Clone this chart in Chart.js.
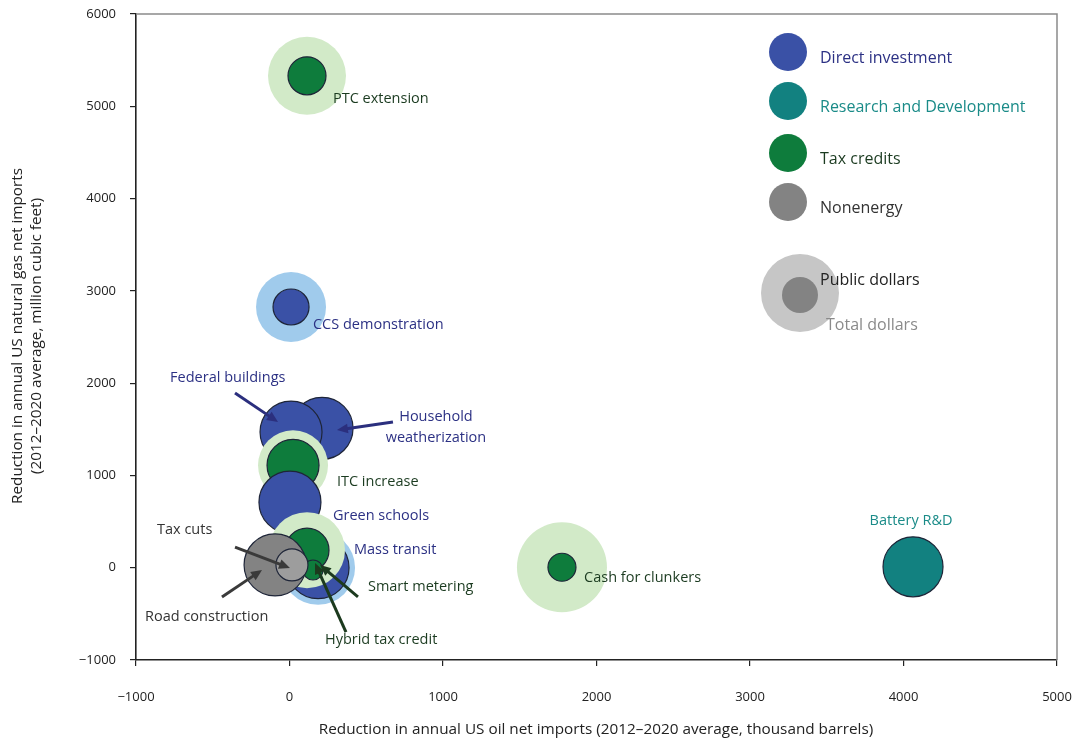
<!DOCTYPE html>
<html>
<head>
<meta charset="utf-8">
<script src="https://cdn.jsdelivr.net/npm/chart.js@4"></script>
<style>
    html, body { margin: 0; padding: 0; background: #fff; }
</style>
</head>
<body>
<canvas id="stimulus_chart" width="1072" height="742"></canvas>
<script>
// Projects, listed in drawing order (back to front)
const projects = [
    "Household weatherization", "Federal buildings", "ITC increase", "Green schools",
    "CCS demonstration", "PTC extension", "Mass transit", "Smart metering",
    "Hybrid tax credit", "Road construction", "Tax cuts", "Cash for clunkers", "Battery R&D"
];
const categories = ["direct", "direct", "tax", "direct", "direct", "tax", "direct", "tax", "tax", "nonenergy", "nonenergy", "tax", "rd"];
const oilImports = [212, 10, 23, 3, 10, 114, 186, 114, 153, -94, 16, 1775, 4062];   // thousand barrels
const gasImports = [1510, 1470, 1110, 710, 2825, 5330, 0, 190, -25, 30, 30, 5, 10]; // million cubic feet
const publicDollars = [31, 31, 26, 31, 18, 19, 31, 22, 10, 31, 16, 14, 30];  // bubble radius
const totalDollars = [0, 0, 35, 0, 35, 39, 37, 38, 0, 0, 0, 45, 0];          // 0 = same as public

const xTicks = [-1000, 0, 1000, 2000, 3000, 4000, 5000];
const yTicks = [-1000, 0, 1000, 2000, 3000, 4000, 5000, 6000];

const legendNames = ["Direct investment", "Research and Development", "Tax credits", "Nonenergy"];
const legendKeys = ["direct", "rd", "tax", "nonenergy"];

const FONT = "'Open Sans', 'Noto Sans', sans-serif";

const colors = {
    direct:    { fill: "#3a51a6", light: "#a0cbec", text: "#2c3184", arrow: "#2b2f7e" },
    rd:        { fill: "#128180", light: "#9fd6d2", text: "#1a8b88", arrow: "#1a8b88" },
    tax:       { fill: "#0e7c3c", light: "#d2eac8", text: "#1b3b20", arrow: "#1c3a1e" },
    nonenergy: { fill: "#838383", light: "#c6c6c6", text: "#333333", arrow: "#3a3a3a" }
};
const smallGray = "#9d9d9d";

// label text, anchored in data units
const labels = [
    { text: ["PTC extension"], x: 283, y: 5078, cat: "tax", align: "left" },
    { text: ["CCS demonstration"], x: 153, y: 2627, cat: "direct", align: "left" },
    { text: ["Federal buildings"], x: -778, y: 2056, cat: "direct", align: "left" },
    { text: ["Household", "weatherization"], x: 954, y: 1633, cat: "direct", align: "center" },
    { text: ["ITC increase"], x: 309, y: 928, cat: "tax", align: "left" },
    { text: ["Green schools"], x: 283, y: 560, cat: "direct", align: "left" },
    { text: ["Mass transit"], x: 420, y: 192, cat: "direct", align: "left" },
    { text: ["Smart metering"], x: 511, y: -209, cat: "tax", align: "left" },
    { text: ["Hybrid tax credit"], x: 231, y: -783, cat: "tax", align: "left" },
    { text: ["Road construction"], x: -941, y: -534, cat: "nonenergy", align: "left" },
    { text: ["Tax cuts"], x: -863, y: 409, cat: "nonenergy", align: "left" },
    { text: ["Cash for clunkers"], x: 1919, y: -115, cat: "tax", align: "left" },
    { text: ["Battery R&D"], x: 4049, y: 505, cat: "rd", align: "center" }
];

// pointer arrows: from -> to, data units
const arrows = [
    { from: [-355, 1893], to: [-75, 1579], cat: "direct" },
    { from: [674, 1579], to: [309, 1492], cat: "direct" },
    { from: [-355, 224], to: [3, -3], cat: "nonenergy" },
    { from: [-440, -317], to: [-179, -25], cat: "nonenergy" },
    { from: [446, -317], to: [199, 29], cat: "tax" },
    { from: [368, -697], to: [166, 51], cat: "tax" }
];

// build the bubbles: total-dollar ring first, public-dollar disc on top
const points = [];
projects.forEach((name, i) => {
    if (totalDollars[i] > 0) {
        points.push({ x: oilImports[i], y: gasImports[i], r: totalDollars[i], kind: "total", cat: categories[i], name: name });
    }
    points.push({ x: oilImports[i], y: gasImports[i], r: publicDollars[i], kind: "public", cat: categories[i], name: name });
});

function fmtTick(v) {
    return v < 0 ? "\u2212" + Math.abs(v) : String(v);
}

function drawArrow(ctx, x1, y1, x2, y2, color) {
    const ang = Math.atan2(y2 - y1, x2 - x1);
    const head = 12;
    ctx.save();
    ctx.strokeStyle = color;
    ctx.fillStyle = color;
    ctx.lineWidth = 3;
    ctx.beginPath();
    ctx.moveTo(x1, y1);
    ctx.lineTo(x2 - Math.cos(ang) * head * 0.8, y2 - Math.sin(ang) * head * 0.8);
    ctx.stroke();
    ctx.beginPath();
    ctx.moveTo(x2, y2);
    ctx.lineTo(x2 - head * Math.cos(ang - 0.42), y2 - head * Math.sin(ang - 0.42));
    ctx.lineTo(x2 - head * Math.cos(ang + 0.42), y2 - head * Math.sin(ang + 0.42));
    ctx.closePath();
    ctx.fill();
    ctx.restore();
}

const decorPlugin = {
    id: "decor",
    afterDatasetsDraw(chart) {
        const ctx = chart.ctx;
        const xs = chart.scales.x, ys = chart.scales.y;
        const area = chart.chartArea;

        // gray frame on top and right
        ctx.save();
        ctx.strokeStyle = "#8a8a8a";
        ctx.lineWidth = 1.5;
        ctx.beginPath();
        ctx.moveTo(area.left, area.top);
        ctx.lineTo(area.right, area.top);
        ctx.lineTo(area.right, area.bottom);
        ctx.stroke();
        ctx.restore();

        // arrows
        arrows.forEach(a => {
            drawArrow(ctx,
                xs.getPixelForValue(a.from[0]), ys.getPixelForValue(a.from[1]),
                xs.getPixelForValue(a.to[0]), ys.getPixelForValue(a.to[1]),
                colors[a.cat].arrow);
        });

        // point labels
        ctx.save();
        ctx.font = "14.5px " + FONT;
        ctx.textBaseline = "middle";
        labels.forEach(l => {
            ctx.fillStyle = colors[l.cat].text;
            ctx.textAlign = l.align;
            const px = xs.getPixelForValue(l.x);
            const py = ys.getPixelForValue(l.y);
            l.text.forEach((t, k) => ctx.fillText(t, px, py + k * 21));
        });
        ctx.restore();

        // legend
        ctx.save();
        ctx.font = "16px " + FONT;
        ctx.textBaseline = "middle";
        ctx.textAlign = "left";
        const legendY = [52, 101, 153, 202];
        legendKeys.forEach((key, k) => {
            ctx.fillStyle = colors[key].fill;
            ctx.beginPath();
            ctx.arc(788, legendY[k], 19, 0, Math.PI * 2);
            ctx.fill();
            ctx.fillStyle = colors[key].text;
            ctx.fillText(legendNames[k], 820, legendY[k] + 6);
        });
        ctx.fillStyle = colors.nonenergy.light;
        ctx.beginPath();
        ctx.arc(800, 293, 39, 0, Math.PI * 2);
        ctx.fill();
        ctx.fillStyle = colors.nonenergy.fill;
        ctx.beginPath();
        ctx.arc(800, 295, 18, 0, Math.PI * 2);
        ctx.fill();
        ctx.fillStyle = "#222";
        ctx.fillText("Public dollars", 820, 280);
        ctx.fillStyle = "#8a8a8a";
        ctx.fillText("Total dollars", 826, 325);
        ctx.restore();

        // axis titles
        ctx.save();
        ctx.font = "15.3px " + FONT;
        ctx.fillStyle = "#222";
        ctx.textAlign = "center";
        ctx.textBaseline = "middle";
        ctx.fillText("Reduction in annual US oil net imports (2012\u20132020 average, thousand barrels)", 596, 730);
        ctx.translate(18, 336);
        ctx.rotate(-Math.PI / 2);
        ctx.fillText("Reduction in annual US natural gas net imports", 0, 0);
        ctx.fillText("(2012\u20132020 average, million cubic feet)", 0, 19);
        ctx.restore();
    }
};

function bubbleFill(c) {
    const p = c.raw;
    if (!p) return "#000";
    if (p.kind === "total") return colors[p.cat].light;
    if (p.name === "Tax cuts") return smallGray;
    return colors[p.cat].fill;
}

const ctx = document.getElementById("stimulus_chart").getContext("2d");
const stimulus_chart = new Chart(ctx, {
    type: "bubble",
    data: {
        datasets: [{
            data: points,
            backgroundColor: bubbleFill,
            borderColor: "#1e2538",
            borderWidth: c => (c.raw && c.raw.kind === "public") ? 1.2 : 0,
            clip: false
        }]
    },
    options: {
        responsive: false,
        animation: false,
        events: [],
        layout: { autoPadding: false, padding: { top: 14, right: 15, left: 0, bottom: 0 } },
        plugins: { legend: { display: false }, tooltip: { enabled: false } },
        scales: {
            x: {
                type: "linear",
                min: -1000, max: 5000,
                afterBuildTicks: s => { s.ticks = xTicks.map(v => ({ value: v })); },
                afterFit: s => { s.height = 82; s.paddingLeft = 0; s.paddingRight = 0; },
                ticks: { callback: fmtTick, color: "#222", font: { family: FONT, size: 13 }, padding: 23, maxRotation: 0 },
                grid: { drawOnChartArea: false, drawTicks: true, tickLength: 6, color: "#222", lineWidth: 1.2 },
                border: { color: "#222", width: 1.6 }
            },
            y: {
                type: "linear",
                min: -1000, max: 6000,
                afterBuildTicks: s => { s.ticks = yTicks.map(v => ({ value: v })); },
                afterFit: s => { s.width = 136; s.paddingTop = 0; s.paddingBottom = 0; },
                ticks: { callback: fmtTick, color: "#222", font: { family: FONT, size: 13 }, padding: 14 },
                grid: { drawOnChartArea: false, drawTicks: true, tickLength: 6, color: "#222", lineWidth: 1.2 },
                border: { color: "#222", width: 1.6 }
            }
        }
    },
    plugins: [decorPlugin]
});
</script>
</body>
</html>
